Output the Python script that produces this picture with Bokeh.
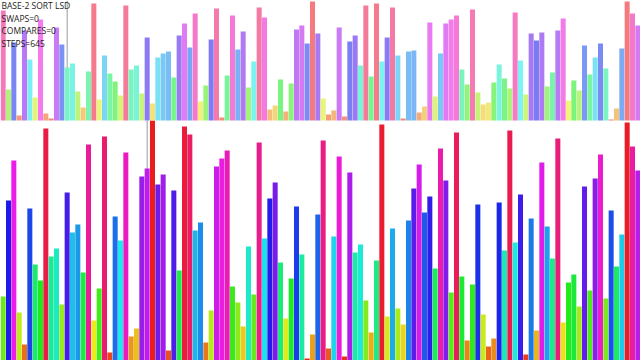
import colorsys
from bokeh.plotting import figure
from bokeh.models import ColumnDataSource, Label, Span
from bokeh.embed import file_html
from bokeh.resources import INLINE

N_MAX = 120

# main array (bottom panel), values 1..120
main_vals = [32, 80, 100, 24, 8, 76, 48, 40, 116, 52, 56, 28, 84, 64, 68, 44, 108, 20, 36, 112,
             4, 72, 60, 104, 12, 16, 92, 96, 120, 88,
             93, 5, 85, 45, 117, 113, 65, 69, 9, 25, 97, 101, 105, 37, 29, 17, 57, 33, 109, 61,
             81, 89, 49, 21, 41, 77, 53, 1, 13, 73,
             110, 6, 62, 102, 2, 94, 54, 58, 30, 14, 50, 118, 22, 66, 26, 18, 70, 86, 98, 74,
             82, 46, 106, 90, 34, 114, 42, 10, 38, 78,
             23, 7, 11, 79, 55, 115, 59, 83, 3, 71, 15, 99, 67, 51, 111, 19, 39, 43, 27, 87,
             35, 91, 103, 31, 75, 47, 63, 119, 107, 95]

# auxiliary array (top panel)
aux_vals = [110, 31, 78, 5, 90, 61, 23, 101, 7, 2, 93, 76, 53, 57, 29, 13, 49, 117, 21, 65,
            47, 39, 25, 115, 51, 55, 27, 83, 17, 63,
            67, 69, 43, 85, 97, 73, 107, 19, 35, 81, 112, 3, 45, 105, 71, 89, 33, 59, 113, 103,
            11, 15, 41, 9, 37, 91, 95, 77, 119, 87,
            22, 6, 10, 93, 4, 79, 85, 55, 115, 44, 117, 59, 83, 113, 65, 2, 69, 70, 8, 14,
            98, 24, 67, 97, 101, 105, 51, 36, 111, 28,
            16, 18, 38, 56, 42, 32, 108, 60, 26, 87, 80, 88, 34, 48, 90, 102, 20, 40, 30, 75,
            46, 63, 77, 52, 1, 12, 72, 119, 107, 95]

main_cursor = 27
aux_cursor = 12

info_lines = ["BASE-2 SORT LSD", "SWAPS=0", "COMPARES=0", "STEPS=645"]


def hsv_hex(v, s, b):
    r, g, bl = colorsys.hsv_to_rgb((v / N_MAX) % 1.0, s, b)
    return "#%02x%02x%02x" % (int(r * 255), int(g * 255), int(bl * 255))


W, H = 640, 360
MAIN_H = 240  # pixels for the main panel
AUX_BASE = MAIN_H

p = figure(width=W, height=H, x_range=(0, len(main_vals)), y_range=(0, H),
           toolbar_location=None, output_backend="svg", min_border=0)
p.axis.visible = False
p.grid.visible = False
p.outline_line_color = None
p.background_fill_color = "white"
p.border_fill_color = "white"

# cursor lines (behind bars)
p.segment(x0=[main_cursor + 0.5], x1=[main_cursor + 0.5], y0=[0], y1=[MAIN_H],
          line_color="#9a9a9a", line_width=1)
p.segment(x0=[aux_cursor + 0.5], x1=[aux_cursor + 0.5], y0=[AUX_BASE], y1=[H],
          line_color="#9a9a9a", line_width=1)

xs = [i + 0.5 for i in range(len(main_vals))]
main_src = ColumnDataSource(dict(
    x=xs,
    top=[v * MAIN_H / N_MAX for v in main_vals],
    color=[hsv_hex(v, 0.88, 0.92) for v in main_vals],
))
p.vbar(x="x", top="top", bottom=0, width=0.94, fill_color="color", line_color=None,
       source=main_src)

aux_src = ColumnDataSource(dict(
    x=xs,
    top=[AUX_BASE + v * (H - AUX_BASE) / N_MAX for v in aux_vals],
    color=[hsv_hex(v, 0.5, 0.96) for v in aux_vals],
))
p.vbar(x="x", top="top", bottom=AUX_BASE, width=0.94, fill_color="color", line_color=None,
       source=aux_src)

for k, t in enumerate(info_lines):
    p.add_layout(Label(x=1, y=H - 5 - k * 12.5, x_units="screen", y_units="screen",
                       text=t, text_font="Open Sans", text_font_size="8.5px",
                       text_color="#222222", text_baseline="middle"))

open("out.html", "w").write(file_html(p, INLINE))
